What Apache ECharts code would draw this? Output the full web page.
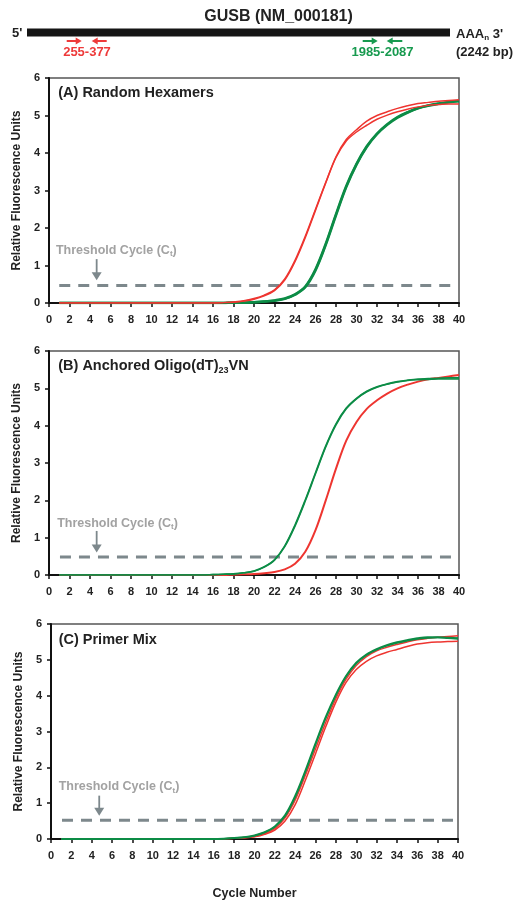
<!DOCTYPE html>
<html>
<head>
<meta charset="utf-8">
<script src="https://cdn.jsdelivr.net/npm/echarts@6/dist/echarts.min.js"></script>
<style>
html, body { margin: 0; padding: 0; background: #fff; }
#main { width: 513px; height: 901px; }
</style>
</head>
<body>
<div id="main"></div>
<script>
// cycles 1..40
var cycles = [1,2,3,4,5,6,7,8,9,10,11,12,13,14,15,16,17,18,19,20,21,22,23,24,25,26,27,28,29,30,31,32,33,34,35,36,37,38,39,40];
var yTicks = [0, 1, 2, 3, 4, 5, 6];

// (A) Random Hexamers
var hexRed1 = [0,0,0,0,0,0,0,0,0,0,0,0,0,0,0,0,0.01,0.03,0.06,0.12,0.21,0.35,0.64,1.14,1.78,2.5,3.22,3.9,4.36,4.62,4.85,5.0,5.1,5.19,5.26,5.32,5.35,5.38,5.4,5.42];
var hexRed2 = [0,0,0,0,0,0,0,0,0,0,0,0,0,0,0,0,0.01,0.02,0.05,0.1,0.19,0.33,0.61,1.1,1.74,2.47,3.2,3.88,4.32,4.56,4.74,4.9,5.01,5.1,5.17,5.23,5.27,5.29,5.31,5.31];
var hexGreen1 = [0,0,0,0,0,0,0,0,0,0,0,0,0,0,0,0,0,0.01,0.01,0.02,0.04,0.07,0.12,0.23,0.44,0.9,1.58,2.37,3.12,3.71,4.18,4.52,4.77,4.96,5.09,5.2,5.27,5.32,5.36,5.39];
var hexGreen2 = [0,0,0,0,0,0,0,0,0,0,0,0,0,0,0,0,0,0.01,0.01,0.02,0.04,0.06,0.11,0.22,0.42,0.87,1.55,2.34,3.09,3.69,4.16,4.5,4.75,4.94,5.08,5.19,5.26,5.31,5.35,5.38];

// (B) Anchored Oligo(dT)23VN
var dtGreen1 = [0,0,0,0,0,0,0,0,0,0,0,0,0,0,0,0.01,0.02,0.03,0.06,0.11,0.22,0.41,0.78,1.34,2.01,2.74,3.46,4.05,4.47,4.73,4.92,5.04,5.12,5.18,5.22,5.25,5.26,5.27,5.28,5.28];
var dtGreen2 = [0,0,0,0,0,0,0,0,0,0,0,0,0,0,0,0.01,0.02,0.03,0.06,0.1,0.21,0.4,0.76,1.31,1.98,2.71,3.43,4.02,4.45,4.72,4.91,5.03,5.11,5.17,5.21,5.23,5.24,5.25,5.25,5.25];
var dtRed = [0,0,0,0,0,0,0,0,0,0,0,0,0,0,0,0,0,0.01,0.02,0.03,0.05,0.08,0.15,0.3,0.62,1.2,2.0,2.85,3.6,4.1,4.45,4.68,4.86,5.0,5.1,5.18,5.24,5.28,5.32,5.36];

// (C) Primer Mix
var mixGreen1 = [0,0,0,0,0,0,0,0,0,0,0,0,0,0,0,0,0.01,0.03,0.05,0.1,0.19,0.35,0.66,1.2,1.9,2.67,3.4,4.03,4.55,4.92,5.15,5.3,5.41,5.49,5.55,5.6,5.63,5.63,5.61,5.59];
var mixGreen2 = [0,0,0,0,0,0,0,0,0,0,0,0,0,0,0,0,0.01,0.03,0.05,0.09,0.18,0.34,0.64,1.17,1.87,2.64,3.37,4.01,4.53,4.9,5.13,5.28,5.39,5.47,5.53,5.58,5.61,5.62,5.62,5.61];
var mixRed1 = [0,0,0,0,0,0,0,0,0,0,0,0,0,0,0,0,0,0.02,0.04,0.07,0.15,0.29,0.59,1.09,1.78,2.52,3.25,3.92,4.46,4.84,5.09,5.25,5.35,5.43,5.5,5.56,5.6,5.63,5.65,5.67];
var mixRed2 = [0,0,0,0,0,0,0,0,0,0,0,0,0,0,0,0,0,0.02,0.03,0.06,0.13,0.25,0.5,0.96,1.64,2.38,3.13,3.82,4.37,4.73,4.96,5.11,5.21,5.29,5.37,5.44,5.48,5.5,5.51,5.52];

var panelTitles = ['(A) Random Hexamers', '(B) Anchored Oligo(dT){sub|23}{t|VN}', '(C) Primer Mix'];
var thresholds = [0.47, 0.48, 0.52];
var thresholdSpan = [[1.0, 39.7], [1.07, 39.7], [1.08, 39.9]];

var RED = '#ee3530';
var GREEN = '#0c8c46';
var GRID_LINE = '#7d888c';

var myChart = echarts.init(document.getElementById('main'));

function pairs(arr) {
    return cycles.map(function (c, i) { return [c, arr[i]]; });
}

var grids = [
    { left: 49, top: 78, width: 410, height: 225 },
    { left: 49, top: 351, width: 410, height: 224 },
    { left: 51, top: 624, width: 407, height: 220 }
];

var xAxes = [], yAxes = [];
for (var i = 0; i < 3; i++) {
    grids[i].show = true;
    grids[i].borderColor = '#555';
    grids[i].borderWidth = 1.5;
    xAxes.push({
        gridIndex: i, type: 'value', min: 0, max: 40, interval: 2,
        axisLine: { lineStyle: { color: '#111', width: 2 } },
        axisTick: { inside: false, length: 4, lineStyle: { color: '#111', width: 1.5 } },
        axisLabel: { margin: 11, color: '#222', fontSize: 11, fontWeight: 'bold', fontFamily: 'Liberation Sans' },
        splitLine: { show: false },
        name: i === 2 ? 'Cycle Number' : '',
        nameLocation: 'middle', nameGap: 48,
        nameTextStyle: { color: '#222', fontSize: 12.5, fontWeight: 'bold', fontFamily: 'Liberation Sans' }
    });
    yAxes.push({
        gridIndex: i, type: 'value', min: yTicks[0], max: yTicks[yTicks.length - 1], interval: 1,
        axisLine: { show: true, lineStyle: { color: '#111', width: 2 } },
        axisTick: { show: true, inside: false, length: 4, lineStyle: { color: '#111', width: 1.5 } },
        axisLabel: { margin: 9, color: '#222', fontSize: 11, fontWeight: 'bold', fontFamily: 'Liberation Sans' },
        splitLine: { show: false },
        name: 'Relative Fluorescence Units',
        nameLocation: 'middle', nameGap: 25,
        nameTextStyle: { color: '#222', fontSize: 12, fontWeight: 'bold', fontFamily: 'Liberation Sans' }
    });
}

function curve(idx, data, color, width) {
    return {
        type: 'line', xAxisIndex: idx, yAxisIndex: idx,
        data: pairs(data), showSymbol: false, smooth: 0.35,
        lineStyle: { color: color, width: width }, itemStyle: { color: color },
        silent: true
    };
}

function threshold(idx) {
    return {
        type: 'line', xAxisIndex: idx, yAxisIndex: idx,
        data: [[thresholdSpan[idx][0], thresholds[idx]], [thresholdSpan[idx][1], thresholds[idx]]],
        showSymbol: false, silent: true, z: 1,
        lineStyle: { color: GRID_LINE, width: 3, type: [11, 8] }
    };
}

var series = [
    threshold(0),
    curve(0, hexGreen1, GREEN, 2.5),
    curve(0, hexGreen2, GREEN, 2.5),
    curve(0, hexRed1, RED, 1.5),
    curve(0, hexRed2, RED, 1.5),
    threshold(1),
    curve(1, dtRed, RED, 2),
    curve(1, dtGreen1, GREEN, 1.6),
    curve(1, dtGreen2, GREEN, 1.6),
    threshold(2),
    curve(2, mixRed1, RED, 1.5),
    curve(2, mixRed2, RED, 1.5),
    curve(2, mixGreen1, GREEN, 2),
    curve(2, mixGreen2, GREEN, 1.5)
];

var option = {
    animation: false,
    backgroundColor: '#fff',
    textStyle: { fontFamily: 'Liberation Sans' },
    grid: grids,
    xAxis: xAxes,
    yAxis: yAxes,
    series: series
};
myChart.setOption(option);

// gene diagram and annotations
var bold = function (size) { return 'bold ' + size + 'px "Liberation Sans"'; };
function rightArrow(x0, x1, y, color) {
    return [
        { type: 'line', shape: { x1: x0, y1: y, x2: x1 - 5, y2: y }, style: { stroke: color, lineWidth: 2 } },
        { type: 'polygon', shape: { points: [[x1 - 6, y - 3.5], [x1, y], [x1 - 6, y + 3.5]] }, style: { fill: color } }
    ];
}
function leftArrow(x0, x1, y, color) {
    return [
        { type: 'line', shape: { x1: x0 + 5, y1: y, x2: x1, y2: y }, style: { stroke: color, lineWidth: 2 } },
        { type: 'polygon', shape: { points: [[x0 + 6, y - 3.5], [x0, y], [x0 + 6, y + 3.5]] }, style: { fill: color } }
    ];
}

var gfx = [
    { type: 'text', style: { text: 'GUSB (NM_000181)', x: 278.5, y: 16.5, align: 'center', verticalAlign: 'middle', font: bold(16), fill: '#222' } },
    { type: 'rect', shape: { x: 27, y: 28.5, width: 423, height: 8 }, style: { fill: '#151515' } },
    { type: 'text', style: { text: "5'", x: 12, y: 33, verticalAlign: 'middle', font: bold(13), fill: '#222' } },
    { type: 'text', style: { text: "{a|AAA}{s|n}{a| 3'}", x: 456, y: 34, verticalAlign: 'middle', fill: '#222',
        rich: { a: { font: bold(13), fill: '#222' }, s: { font: bold(8), fill: '#222', padding: [8, 0, 0, 0] } } } },
    { type: 'text', style: { text: '(2242 bp)', x: 456, y: 52, verticalAlign: 'middle', font: bold(13), fill: '#222' } },
    { type: 'text', style: { text: '255-377', x: 87, y: 52, align: 'center', verticalAlign: 'middle', font: bold(13), fill: '#ee3a3a' } },
    { type: 'text', style: { text: '1985-2087', x: 382.5, y: 52, align: 'center', verticalAlign: 'middle', font: bold(13), fill: '#179a4f' } }
];
gfx = gfx.concat(rightArrow(66.7, 81.7, 41, '#ee3a3a'), leftArrow(91.7, 106.7, 41, '#ee3a3a'),
    rightArrow(362.7, 377.7, 41, '#179a4f'), leftArrow(386.7, 402.3, 41, '#179a4f'));

// panel titles and threshold annotations, anchored to each panel's axes
var titleAnchor = [[0.9, 5.6], [0.9, 5.6], [0.75, 5.55]];
var textAnchor = [[0.68, 1.41], [0.8, 1.38], [0.75, 1.45]];
var arrowAnchor = [[4.65, 1.17, 0.61], [4.65, 1.18, 0.6], [4.74, 1.21, 0.65]];
for (var k = 0; k < 3; k++) {
    var tp = myChart.convertToPixel({ gridIndex: k }, titleAnchor[k]);
    gfx.push({ type: 'text', style: { text: '{t|' + panelTitles[k].replace('{sub|23}{t|VN}', '}{sub|23}{t|VN') + '}', x: tp[0], y: tp[1], verticalAlign: 'middle',
        rich: { t: { font: bold(14.5), fill: '#222' }, sub: { font: bold(9), fill: '#222', padding: [9, 0, 0, 0] } } } });
    var xp = myChart.convertToPixel({ gridIndex: k }, textAnchor[k]);
    gfx.push({ type: 'text', style: { text: '{a|Threshold Cycle (C}{s|t}{a|)}', x: xp[0], y: xp[1], verticalAlign: 'middle',
        rich: { a: { font: bold(12.5), fill: '#a2a2a2' }, s: { font: bold(8), fill: '#a2a2a2', padding: [7, 0, 0, 0] } } } });
    var a0 = myChart.convertToPixel({ gridIndex: k }, [arrowAnchor[k][0], arrowAnchor[k][1]]);
    var a1 = myChart.convertToPixel({ gridIndex: k }, [arrowAnchor[k][0], arrowAnchor[k][2]]);
    gfx.push({ type: 'line', shape: { x1: a0[0], y1: a0[1], x2: a1[0], y2: a1[1] - 7 }, style: { stroke: GRID_LINE, lineWidth: 1.8 } });
    gfx.push({ type: 'polygon', shape: { points: [[a1[0] - 5, a1[1] - 8], [a1[0] + 5, a1[1] - 8], [a1[0], a1[1]]] }, style: { fill: GRID_LINE } });
}

myChart.setOption({ graphic: gfx });
</script>
</body>
</html>
